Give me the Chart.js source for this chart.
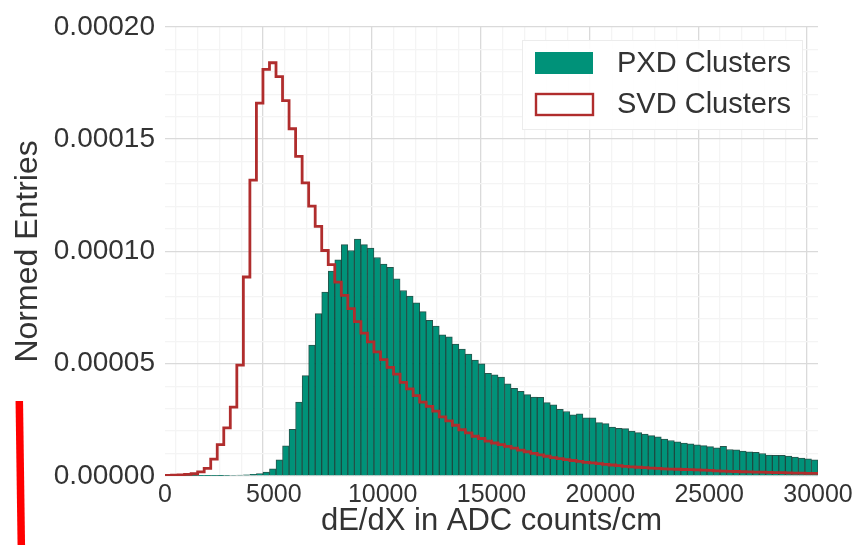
<!DOCTYPE html>
<html><head><meta charset="utf-8">
<script src="https://cdn.jsdelivr.net/npm/chart.js@4.4.1/dist/chart.umd.min.js"></script>
<style>html,body{margin:0;padding:0;background:#fff;}#wrap{width:862px;height:545px;position:relative;}</style>
</head><body><div id="wrap"><canvas id="c" width="862" height="545"></canvas></div>
<script>
// ---- data ----
const binStart = 0;          // ADC counts/cm
const binWidth = 300;        // ADC counts/cm
const valueUnit = 1e-5;      // values below are in units of 1e-5
const seriesNames = ['PXD Clusters', 'SVD Clusters'];
const pxdValues = [
  0.005,0.005,0.005,0.005,0.01,0.01,0.01,0.015,0.02,0.025,
  0.03,0.04,0.05,0.07,0.11,0.18,0.32,0.72,1.34,2.08,
  3.29,4.47,5.83,7.23,8.19,9.12,9.63,10.30,10.04,10.55,
  10.30,10.15,9.73,9.44,9.29,8.78,8.26,8.01,7.71,7.32,
  6.93,6.68,6.28,6.20,5.87,5.65,5.43,5.16,4.99,4.57,
  4.51,4.40,4.10,3.90,3.77,3.62,3.51,3.50,3.27,3.17,
  2.97,2.87,2.72,2.77,2.59,2.59,2.38,2.33,2.18,2.12,
  2.11,2.00,1.93,1.87,1.80,1.74,1.64,1.58,1.52,1.47,
  1.43,1.39,1.35,1.31,1.25,1.32,1.18,1.16,1.11,1.08,
  1.05,1.00,0.93,0.92,0.92,0.89,0.84,0.80,0.77,0.72
];
const svdValues = [
  0.03,0.04,0.05,0.07,0.10,0.18,0.34,0.75,1.40,2.14,
  3.07,4.94,8.86,13.17,16.6,18.1,18.4,17.78,16.71,15.46,
  14.23,13.05,12.02,11.11,10.04,9.41,8.63,8.04,7.45,6.87,
  6.36,5.97,5.53,5.18,4.84,4.54,4.17,3.88,3.58,3.29,
  3.10,2.89,2.63,2.45,2.26,2.06,1.92,1.77,1.67,1.55,
  1.47,1.40,1.32,1.24,1.15,1.08,1.01,0.94,0.88,0.82,
  0.77,0.73,0.69,0.65,0.61,0.58,0.55,0.52,0.49,0.46,
  0.43,0.41,0.39,0.37,0.35,0.34,0.32,0.31,0.30,0.29,
  0.28,0.27,0.26,0.25,0.23,0.22,0.21,0.20,0.19,0.18,
  0.17,0.17,0.16,0.15,0.15,0.14,0.13,0.13,0.12,0.12
];
const xTickLabels = ['0','5000','10000','15000','20000','25000','30000'];
const yTickLabels = ['0.00000','0.00005','0.00010','0.00015','0.00020'];
const xTitle = 'dE/dX in ADC counts/cm';
const yTitle = 'Normed Entries';

// ---- build ----
const nBins = pxdValues.length;
const xMin = binStart, xMax = binStart + binWidth * nBins;
const yMax = Number(yTickLabels[yTickLabels.length - 1]);
const yStep = Number(yTickLabels[1]);
const xStep = Number(xTickLabels[1]);

const pxdData = pxdValues.map((v, i) => ({x: binStart + binWidth * (i + 0.5), y: v * valueUnit}));
const svdData = svdValues.map((v, i) => ({x: binStart + binWidth * i, y: v * valueUnit}));
svdData.push({x: xMax, y: svdValues[nBins - 1] * valueUnit});

const TEAL = '#009279';
const TEAL_EDGE = 'rgba(0,55,45,0.85)';
const RED = '#b02d2d';
const FONT = '"Liberation Sans", Arial, sans-serif';
const TXT = '#333333';

function isMajor(v, step) {
  return Math.abs(v / step - Math.round(v / step)) < 1e-6;
}
function gridColor(step) {
  return (c) => {
    const v = (c && c.tick) ? c.tick.value : 0;
    return isMajor(v, step) ? '#dadada' : '#f4f4f4';
  };
}

const overlay = {
  id: 'overlay',
  afterDraw(chart) {
    const ctx = chart.ctx;
    ctx.save();
    const lx = 522, ly = 40, lw = 281, lh = 90;
    ctx.fillStyle = 'rgba(255,255,255,0.92)';
    ctx.fillRect(lx, ly, lw, lh);
    ctx.strokeStyle = '#ececec';
    ctx.lineWidth = 1;
    ctx.strokeRect(lx + 0.5, ly + 0.5, lw - 1, lh - 1);
    ctx.font = '29px ' + FONT;
    ctx.textBaseline = 'middle';
    ctx.textAlign = 'left';
    chart.data.datasets.forEach((ds, i) => {
      const cy = 63 + i * 41;
      if (ds.type === 'line') {
        ctx.fillStyle = '#fff';
        ctx.fillRect(536, cy - 10, 57, 21);
        ctx.strokeStyle = ds.borderColor;
        ctx.lineWidth = 2.4;
        ctx.strokeRect(536, cy - 10, 57, 21);
      } else {
        ctx.fillStyle = ds.backgroundColor;
        ctx.fillRect(535, cy - 11, 58, 22);
      }
      ctx.fillStyle = TXT;
      ctx.fillText(ds.label, 617, cy + 1);
    });
    ctx.strokeStyle = '#ff0000';
    ctx.lineWidth = 7.5;
    ctx.lineCap = 'butt';
    ctx.beginPath();
    ctx.moveTo(19.3, 401);
    ctx.lineTo(21.3, 545);
    ctx.stroke();
    ctx.restore();
  }
};

new Chart(document.getElementById('c'), {
  data: {
    datasets: [
      {
        type: 'bar', label: seriesNames[0], data: pxdData,
        backgroundColor: TEAL, borderColor: TEAL_EDGE, borderWidth: 1,
        borderSkipped: 'bottom',
        barPercentage: 1.0, categoryPercentage: 1.0, order: 2
      },
      {
        type: 'line', label: seriesNames[1], data: svdData,
        borderColor: RED, borderWidth: 2.8, stepped: 'before',
        pointRadius: 0, fill: false, order: 1
      }
    ]
  },
  options: {
    responsive: false,
    animation: false,
    devicePixelRatio: 1,
    layout: {padding: {left: 0, top: 25, right: 44, bottom: 0}},
    plugins: {legend: {display: false}, tooltip: {enabled: false}},
    scales: {
      x: {
        type: 'linear', min: xMin, max: xMax, offset: false,
        afterFit(s) { s.height = 69; },
        afterBuildTicks(s) {
          const t = [];
          for (let k = 0; k <= (xMax - xMin) / (xStep / 5) + 1e-9; k++) t.push({value: xMin + k * xStep / 5});
          s.ticks = t;
        },
        ticks: {
          autoSkip: false, maxRotation: 0, padding: 4, color: TXT,
          font: {family: FONT, size: 25},
          callback(v) {
            return isMajor(v, xStep) ? xTickLabels[Math.round(v / xStep)] : '';
          }
        },
        grid: {drawTicks: false, lineWidth: 1.3, color: gridColor(xStep)},
        border: {display: false},
        title: {display: true, text: xTitle, color: TXT, font: {family: FONT, size: 31}, padding: {top: 0, bottom: 5}}
      },
      y: {
        type: 'linear', min: 0, max: yMax,
        afterFit(s) { s.width = 165; },
        afterBuildTicks(s) {
          const t = [];
          for (let k = 0; k <= 20; k++) t.push({value: yMax * k / 20});
          s.ticks = t;
        },
        ticks: {
          autoSkip: false, padding: 10, color: TXT,
          font: {family: FONT, size: 28},
          callback(v) {
            return isMajor(v, yStep) ? yTickLabels[Math.round(v / yStep)] : '';
          }
        },
        grid: {drawTicks: false, lineWidth: 1.3, color: gridColor(yStep)},
        border: {display: false},
        title: {display: true, text: yTitle, color: TXT, font: {family: FONT, size: 32}, padding: {top: 9, bottom: 0}}
      }
    }
  },
  plugins: [overlay]
});
</script>
</body></html>
